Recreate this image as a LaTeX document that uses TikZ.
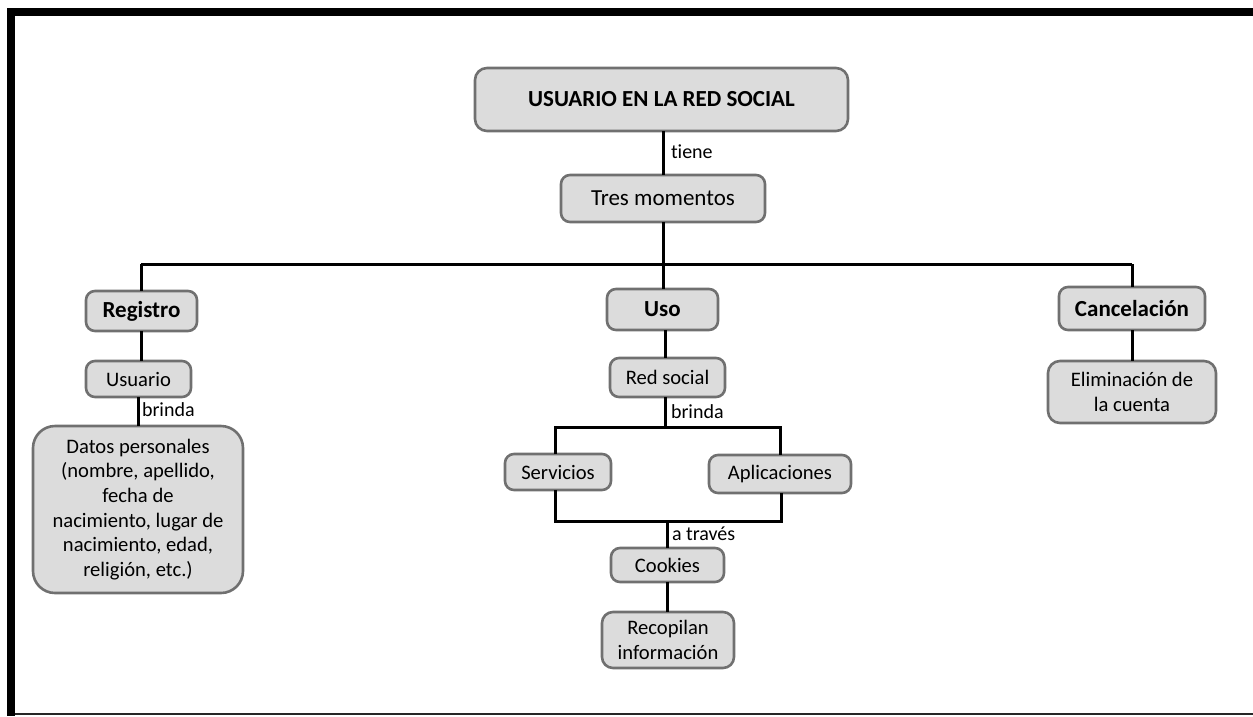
\documentclass[tikz,border=0pt]{standalone}
\usepackage{fontspec}
\setmainfont[Ligatures={NoCommon}]{Carlito}
\definecolor{boxfill}{RGB}{220,220,220}
\definecolor{boxline}{RGB}{112,112,112}
\tikzset{
  every node/.style={inner sep=0pt, outer sep=0pt},
  concept/.style={draw=boxline, line width=2.6pt, fill=boxfill, rounded corners=9pt,
    align=center, font=\fontsize{20.6}{24.6}\selectfont},
  head/.style={concept, font=\fontsize{23}{27}\selectfont\bfseries},
  link/.style={line width=3pt, black},
  linklabel/.style={anchor=west, font=\fontsize{20}{23}\selectfont},
}
\begin{document}
\begin{tikzpicture}[x=1pt, y=-1pt]
\useasboundingbox (0,0) rectangle (1253,716);
% page frame
\fill[black] (7,8) rectangle (1253,16);
\fill[black] (7,8) rectangle (15,716);
\draw[line width=1.5pt, black!85] (15,714) -- (1253,714);

% concepts
\node[head, minimum width=373pt, minimum height=63pt, rounded corners=12pt] (title) at (661.5,99.5) {USUARIO EN LA RED SOCIAL};
\node[concept, font=\fontsize{23}{27}\selectfont, minimum width=204pt, minimum height=47pt] (tres) at (663,198.5) {Tres momentos};
\node[head, minimum width=111pt, minimum height=40pt] (registro) at (141.5,311) {Registro};
\node[head, minimum width=111pt, minimum height=41pt] (uso) at (662.5,309.5) {Uso};
\node[head, minimum width=146pt, minimum height=43pt] (cancel) at (1132,308.5) {Cancelación};
\node[concept, minimum width=105pt, minimum height=36pt] (usuario) at (138.5,379) {Usuario};
\node[concept, minimum width=210pt, minimum height=167pt, rounded corners=22pt] (datos) at (138,509.5)
  {Datos personales\\(nombre, apellido,\\fecha de\\nacimiento, lugar de\\nacimiento, edad,\\religión, etc.)};
\node[concept, minimum width=115pt, minimum height=39pt] (red) at (667.5,377.5) {Red social};
\node[concept, minimum width=106pt, minimum height=36pt] (serv) at (558,472) {Servicios};
\node[concept, minimum width=142pt, minimum height=38pt] (apli) at (780,474) {Aplicaciones};
\node[concept, minimum width=113pt, minimum height=34pt] (cook) at (667.5,565) {Cookies};
\node[concept, minimum width=132pt, minimum height=56pt, rounded corners=11pt] (reco) at (668,640) {Recopilan\\información};
\node[concept, minimum width=168pt, minimum height=62pt, rounded corners=12pt] (elim) at (1132,392) {Eliminación de\\la cuenta};

% junction points of the connectors
\coordinate (busL) at (141,264);
\coordinate (busC) at (663,264);
\coordinate (busR) at (1132,264);
\coordinate (topL) at (555,427);
\coordinate (topC) at (665,427);
\coordinate (topR) at (780,427);
\coordinate (botL) at (555,521);
\coordinate (botC) at (667,521);
\coordinate (botR) at (781,521);

% connectors
\draw[link] (title.south -| busC) -- (tres.north -| busC);
\draw[link] (tres.south -| busC) -- (busC);
\draw[link] (busL) -- (busR);
\draw[link] (busL) -- (registro.north -| busL);
\draw[link] (busC) -- (uso.north -| busC);
\draw[link] (busR) -- (cancel.north -| busR);
\draw[link] (registro.south -| busL) -- (usuario.north -| busL);
\draw[link] (usuario.south -| 138,0) -- (datos.north -| 138,0);
\draw[link] (uso.south -| topC) -- (red.north -| topC);
\draw[link] (red.south -| topC) -- (topC);
\draw[link] (serv.north -| topL) -- (topL) -- (topR) -- (apli.north -| topR);
\draw[link] (serv.south -| botL) -- (botL) -- (botR) -- (apli.south -| botR);
\draw[link] (botC) -- (cook.north -| botC);
\draw[link] (cook.south -| botC) -- (reco.north -| botC);
\draw[link] (cancel.south -| busR) -- (elim.north -| busR);

% connector labels
\node[linklabel] (lTiene) at (671,152) {tiene};
\node[linklabel] (lBrindaA) at (142,410) {brinda};
\node[linklabel] (lBrindaB) at (671,412) {brinda};
\node[linklabel] (lTraves) at (672,534) {a través};
\end{tikzpicture}
\end{document}
